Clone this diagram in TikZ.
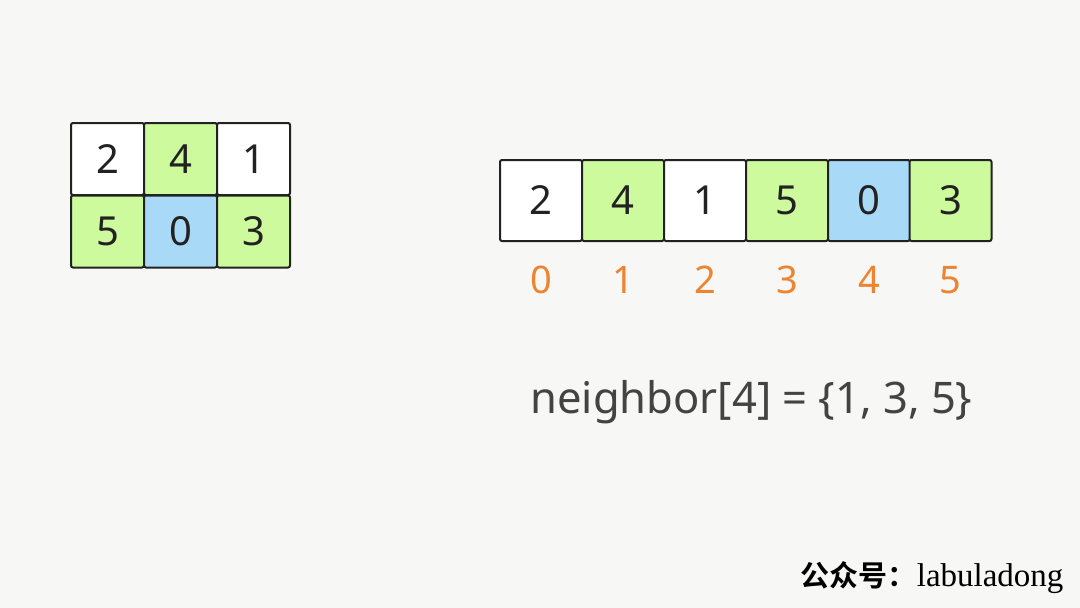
\documentclass[tikz,border=0pt]{standalone}
\usepackage{fontspec}
\setmainfont{Noto Sans}
\newfontfamily\cjkfont{Noto Sans CJK SC}[BoldFont={* Bold}]
\newfontfamily\footfont{Liberation Serif}
\definecolor{paper}{HTML}{F7F7F5}
\definecolor{cellgreen}{HTML}{CDFA9C}
\definecolor{cellblue}{HTML}{A8DAF8}
\definecolor{idxorange}{HTML}{EC8431}
\definecolor{ink}{HTML}{222222}

\begin{document}
\begin{tikzpicture}[x=1pt, y=-1pt,
  cell/.style={draw=ink, line width=2pt, rounded corners=2pt, text=ink, font=\fontsize{40}{40}\selectfont, inner sep=0pt},
  gcell/.style={cell, minimum width=73pt, minimum height=72pt},
  acell/.style={cell, minimum width=82pt, minimum height=81pt},
  idx/.style={text=idxorange, font=\fontsize{38}{38}\selectfont\bfseries}]
\fill[paper] (0,0) rectangle (1080,608);
\useasboundingbox (0,0) rectangle (1080,608);

% grid
\node[gcell, fill=white] (g00) at (107.5,159) {2};
\node[gcell, fill=cellgreen] (g01) at (180.5,159) {4};
\node[gcell, fill=white] (g02) at (253.5,159) {1};
\node[gcell, fill=cellgreen] (g10) at (107.5,231.5) {5};
\node[gcell, fill=cellblue] (g11) at (180.5,231.5) {0};
\node[gcell, fill=cellgreen] (g12) at (253.5,231.5) {3};

% flat array
\node[acell, fill=white] (a0) at (541,200.5) {2};
\node[acell, fill=cellgreen] (a1) at (623,200.5) {4};
\node[acell, fill=white] (a2) at (705,200.5) {1};
\node[acell, fill=cellgreen] (a3) at (787,200.5) {5};
\node[acell, fill=cellblue] (a4) at (869,200.5) {0};
\node[acell, fill=cellgreen] (a5) at (950.5,200.5) {3};

% indices
\node[idx] (i0) at (541,280) {0};
\node[idx] (i1) at (623,280) {1};
\node[idx] (i2) at (705,280) {2};
\node[idx] (i3) at (787,280) {3};
\node[idx, font=\fontsize{38}{38}\selectfont] (i4) at (869,280) {4};
\node[idx, font=\fontsize{38}{38}\selectfont] (i5) at (950.5,280) {5};

\node[text=ink!85, font=\fontsize{43.5}{43.5}\selectfont, anchor=west] (nb) at (527,402) {neighbor[4] = \{1, 3, 5\}};

\node[text=black, anchor=east] (credit) at (1067,578) {{\cjkfont\bfseries\fontsize{29}{29}\selectfont 公众号：}{\footfont\fontsize{33}{33}\selectfont labuladong}};
\end{tikzpicture}
\end{document}
